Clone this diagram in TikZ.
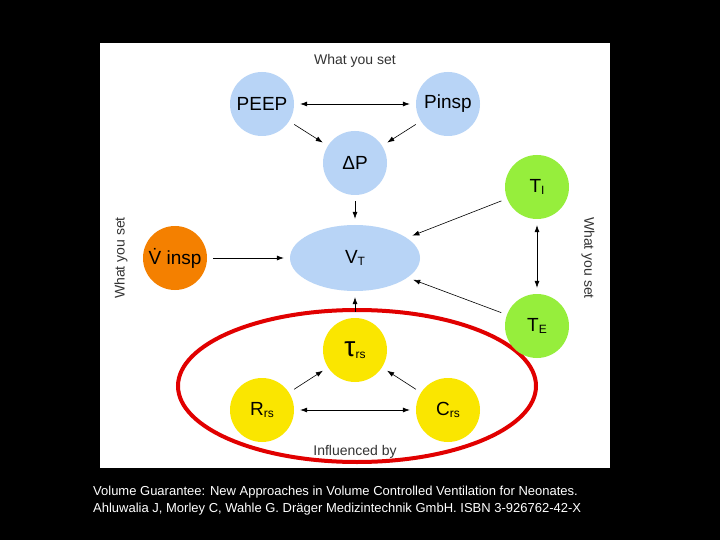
\documentclass[tikz,border=0pt]{standalone}
\usepackage{fontspec}
\setmainfont{Liberation Sans}
\usetikzlibrary{arrows.meta,shapes.geometric}
\definecolor{cblue}{RGB}{184,212,246}
\definecolor{cgreen}{RGB}{150,238,60}
\definecolor{corange}{RGB}{244,128,0}
\definecolor{cyellow}{RGB}{250,230,0}
\definecolor{cred}{RGB}{225,0,0}
\newcommand{\subtx}[1]{\raisebox{-2pt}{\fontsize{12}{12}\selectfont #1}}
\tikzset{
  ball/.style={circle,minimum size=64pt,inner sep=0pt,font=\fontsize{19}{19}\selectfont},
  conn/.style={-{Latex[length=7pt,width=5pt]},line width=0.6pt,shorten >=6pt,shorten <=6pt},
  bconn/.style={{Latex[length=7pt,width=5pt]}-{Latex[length=7pt,width=5pt]},line width=0.6pt,shorten >=6pt,shorten <=6pt},
  lbl/.style={font=\fontsize{14}{14}\selectfont,text=black!80},
}
\begin{document}
\begin{tikzpicture}[x=1pt,y=-1pt]
\fill[black] (0,0) rectangle (720,540);
\fill[white] (100,43) rectangle (610,468);
\draw[cred,line width=4pt] (357,386) ellipse [x radius=179pt,y radius=76pt];
\node[ball,fill=cblue] (peep) at (262,104) {PEEP};
\node[ball,fill=cblue] (pinsp) at (448,104) {Pinsp};
\node[ball,fill=cblue] (dp) at (355,163) {ΔP};
\node[ellipse,minimum width=130pt,minimum height=66pt,inner sep=0pt,fill=cblue,font=\fontsize{19}{19}\selectfont] (vt) at (355,258) {V\subtx{T}};
\node[ball,fill=corange] (vi) at (175,258) {\.{V} insp};
\node[ball,fill=cgreen] (ti) at (537,187) {T\subtx{I}};
\node[ball,fill=cgreen] (te) at (537,326) {T\subtx{E}};
\node[ball,fill=cyellow] (tau) at (355,350) {{\fontsize{28}{28}\selectfont τ}\subtx{rs}};
\node[ball,fill=cyellow] (r) at (262,410) {R\subtx{rs}};
\node[ball,fill=cyellow] (c) at (448,410) {C\subtx{rs}};
\draw[bconn] (peep) -- (pinsp);
\draw[conn] (peep) -- (dp);
\draw[conn] (pinsp) -- (dp);
\draw[conn] (dp) -- (vt);
\draw[conn] (vi) -- (vt);
\draw[conn] (ti) -- (vt);
\draw[conn] (te) -- (vt);
\draw[bconn] (ti) -- (te);
\draw[conn] (tau) -- (vt);
\draw[conn] (r) -- (tau);
\draw[conn] (c) -- (tau);
\draw[bconn] (r) -- (c);
\node[lbl] (t1) at (355,61) {What you set};
\node[lbl,rotate=90] (t2) at (121,258) {What you set};
\node[lbl,rotate=-90] (t3) at (588,258) {What you set};
\node[lbl,inner sep=1pt] (t4) at (355,452) {Influenced by};
\node[anchor=north west,align=left,text=white,font=\fontsize{13}{17}\selectfont,inner sep=0pt] (cap) at (93,486) {Volume Guarantee: New Approaches in Volume Controlled Ventilation for Neonates.\\Ahluwalia J, Morley C, Wahle G. Dräger Medizintechnik GmbH. ISBN 3-926762-42-X};
\end{tikzpicture}
\end{document}
